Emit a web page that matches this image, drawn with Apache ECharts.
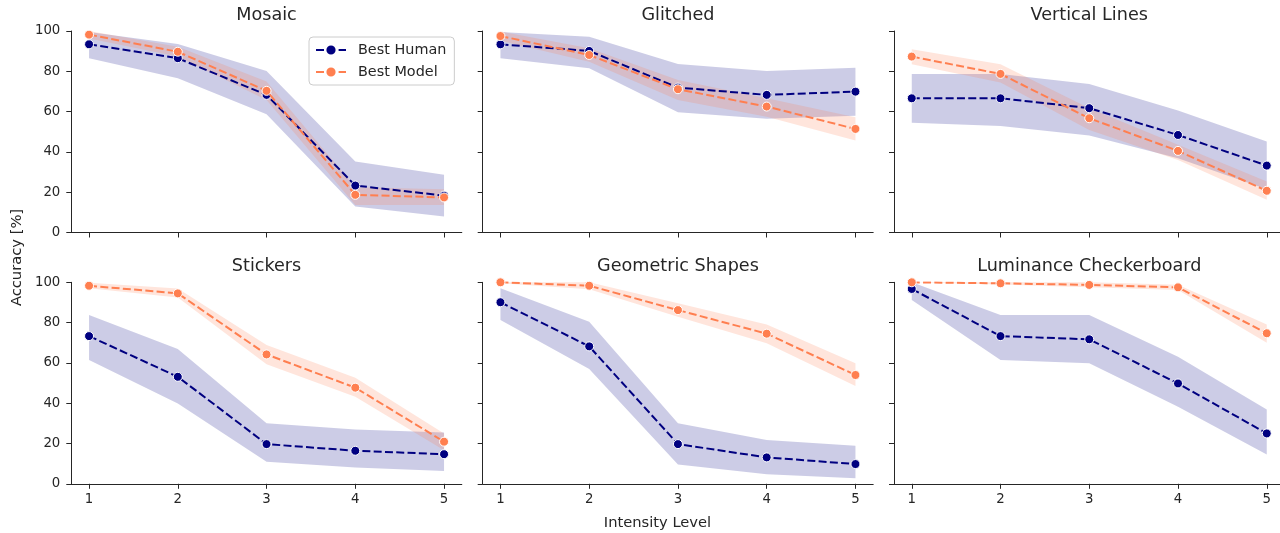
<!DOCTYPE html>
<html>
<head>
<meta charset="utf-8">
<script src="https://cdn.jsdelivr.net/npm/echarts@6/dist/echarts.min.js"></script>
<style>
  html, body { margin: 0; padding: 0; background: #ffffff; }
  #chart { width: 1280px; height: 533px; }
</style>
</head>
<body>
<div id="chart"></div>
<script>
// ---------------- DATA ----------------
const levels = [1, 2, 3, 4, 5];
const levelTicks = [1, 2, 3, 4, 5];
const yTicks = [0, 20, 40, 60, 80, 100];
const panelTitles = ['Mosaic', 'Glitched', 'Vertical Lines', 'Stickers', 'Geometric Shapes', 'Luminance Checkerboard'];
const seriesNames = ['Best Human', 'Best Model'];

const mosaicHuman   = [93.4, 86.5, 68.3, 23.3, 18.3];
const mosaicHumanLo = [86.5, 76.5, 58.7, 12.9, 7.9];
const mosaicHumanHi = [99.5, 93.5, 80.2, 35.2, 28.6];
const mosaicModel   = [98.2, 89.7, 70.3, 18.7, 17.4];
const mosaicModelLo = [96.3, 87.3, 65.8, 13.7, 13.7];
const mosaicModelHi = [100, 92.2, 74.9, 22.5, 21.5];

const glitchedHuman   = [93.4, 90.1, 71.9, 68.3, 69.9];
const glitchedHumanLo = [86.5, 81.5, 59.7, 56.4, 58.0];
const glitchedHumanHi = [99.5, 97.2, 83.6, 80.2, 81.8];
const glitchedModel   = [97.5, 88.1, 71.1, 62.5, 51.4];
const glitchedModelLo = [95.2, 84.8, 65.8, 57.5, 45.6];
const glitchedModelHi = [99.8, 91.4, 75.7, 66.6, 57.2];

const verticalHuman   = [66.6, 66.6, 61.7, 48.4, 33.2];
const verticalHumanLo = [54.5, 52.9, 48.1, 36.9, 21.5];
const verticalHumanHi = [78.7, 78.7, 73.7, 60.5, 45.1];
const verticalModel   = [87.3, 78.7, 56.7, 40.5, 20.7];
const verticalModelLo = [83.5, 74.4, 50.9, 36.0, 16.2];
const verticalModelHi = [90.9, 83.5, 61.7, 43.5, 25.3];

const stickersHuman   = [73.3, 53.1, 19.7, 16.4, 14.7];
const stickersHumanLo = [61.4, 39.9, 10.9, 8.1, 6.3];
const stickersHumanHi = [83.8, 66.9, 30.0, 27.0, 25.5];
const stickersModel   = [98.3, 94.5, 64.2, 47.7, 20.9];
const stickersModelLo = [97.0, 92.4, 59.3, 43.2, 16.7];
const stickersModelHi = [99.8, 96.9, 68.9, 52.6, 25.0];

const geometricHuman   = [90.1, 68.2, 19.7, 13.1, 9.8];
const geometricHumanLo = [81.3, 57.0, 9.6, 4.7, 2.7];
const geometricHumanHi = [97.0, 80.4, 30.0, 21.7, 18.9];
const geometricModel   = [100, 98.3, 86.2, 74.5, 54.0];
const geometricModelLo = [99.5, 96.5, 82.9, 69.7, 48.5];
const geometricModelHi = [100, 100, 89.6, 79.1, 59.8];

const luminanceHuman   = [96.7, 73.3, 71.7, 49.8, 25.0];
const luminanceHumanLo = [91.2, 61.4, 59.8, 38.2, 14.6];
const luminanceHumanHi = [100, 83.8, 83.8, 63.1, 36.9];
const luminanceModel   = [100, 99.5, 98.7, 97.5, 74.7];
const luminanceModelLo = [100, 98.9, 97.5, 96.2, 70.0];
const luminanceModelHi = [100, 100, 100, 98.8, 79.1];

// ---------------- BUILD ----------------
const panels = [
  [mosaicHuman, mosaicHumanLo, mosaicHumanHi, mosaicModel, mosaicModelLo, mosaicModelHi],
  [glitchedHuman, glitchedHumanLo, glitchedHumanHi, glitchedModel, glitchedModelLo, glitchedModelHi],
  [verticalHuman, verticalHumanLo, verticalHumanHi, verticalModel, verticalModelLo, verticalModelHi],
  [stickersHuman, stickersHumanLo, stickersHumanHi, stickersModel, stickersModelLo, stickersModelHi],
  [geometricHuman, geometricHumanLo, geometricHumanHi, geometricModel, geometricModelLo, geometricModelHi],
  [luminanceHuman, luminanceHumanLo, luminanceHumanHi, luminanceModel, luminanceModelLo, luminanceModelHi]
];

const FONT = 'DejaVu Sans';
const TXT = '#262626';
const HUMAN = '#000080';
const MODEL = '#FF7F50';
const HUMAN_BAND = 'rgba(0,0,128,0.2)';
const MODEL_BAND = 'rgba(255,127,80,0.2)';

const colLeft = [71.3, 482.7, 894];
const pxPerUnit = 88.75;
const fullW = 4.4 * pxPerUnit;
// last column is cut by the right edge of the figure
const colW = [fullW, fullW, 1280 - 894];
const rowTop = [31, 282.3];
const gridH = 201.5;

const grids = [], xAxes = [], yAxes = [], series = [], graphics = [];

function bandRenderer(lo, hi, color) {
  return function (params, api) {
    if (params.dataIndex !== 0) return null;
    const top = levels.map((x, i) => api.coord([x, hi[i]]));
    const bot = levels.map((x, i) => api.coord([x, lo[i]])).reverse();
    return {
      type: 'polygon',
      shape: { points: top.concat(bot) },
      style: { fill: color, stroke: null }
    };
  };
}

panels.forEach((p, k) => {
  const r = Math.floor(k / 3), c = k % 3;
  grids.push({ left: colLeft[c], top: rowTop[r], width: colW[c], height: gridH, containLabel: false });
  xAxes.push({
    gridIndex: k, type: 'value', min: 0.8, max: 0.8 + colW[c] / pxPerUnit,
    splitLine: { show: false },
    axisLine: { show: true, onZero: false, lineStyle: { color: TXT, width: 1 } },
    axisTick: { show: true, customValues: levelTicks, length: 5, lineStyle: { color: TXT, width: 1 } },
    axisLabel: { show: r === 1, customValues: levelTicks, margin: 9, fontSize: 13.3, color: TXT, fontFamily: FONT }
  });
  yAxes.push({
    gridIndex: k, type: 'value', min: 0, max: 100, interval: 20,
    splitLine: { show: false },
    axisLine: { show: true, lineStyle: { color: TXT, width: 1 } },
    axisTick: { show: true, length: 5, lineStyle: { color: TXT, width: 1 } },
    axisLabel: { show: c === 0, margin: 11, fontSize: 13.3, color: TXT, fontFamily: FONT }
  });
  const [h, hLo, hHi, m, mLo, mHi] = p;
  series.push({
    type: 'custom', name: 'Human band', xAxisIndex: k, yAxisIndex: k, z: 1, silent: true,
    data: levels.map((x, i) => [x, hLo[i], hHi[i]]),
    encode: { x: 0, y: [1, 2] },
    renderItem: bandRenderer(hLo, hHi, HUMAN_BAND)
  });
  series.push({
    type: 'custom', name: 'Model band', xAxisIndex: k, yAxisIndex: k, z: 1, silent: true,
    data: levels.map((x, i) => [x, mLo[i], mHi[i]]),
    encode: { x: 0, y: [1, 2] },
    renderItem: bandRenderer(mLo, mHi, MODEL_BAND)
  });
  [[seriesNames[0], h, HUMAN, 3], [seriesNames[1], m, MODEL, 4]].forEach(([name, vals, col, z]) => {
    series.push({
      type: 'line', name: name, xAxisIndex: k, yAxisIndex: k, z: z,
      data: levels.map((x, i) => [x, vals[i]]),
      symbol: 'circle', symbolSize: 9, showSymbol: true,
      lineStyle: { color: col, width: 2, type: [8, 3.3] },
      itemStyle: { color: col, borderColor: '#ffffff', borderWidth: 1 },
      emphasis: { disabled: true }
    });
  });
  graphics.push({
    type: 'text', x: colLeft[c] + fullW / 2, y: r === 0 ? 15 : 266.7,
    style: { text: panelTitles[k], fontSize: 17.6, fontFamily: FONT, fill: TXT, align: 'center', verticalAlign: 'middle' }
  });
});

graphics.push({
  type: 'text', x: 657.5, y: 523,
  style: { text: 'Intensity Level', fontSize: 14.7, fontFamily: FONT, fill: TXT, align: 'center', verticalAlign: 'middle' }
});
graphics.push({
  type: 'text', x: 17, y: 257.5, rotation: Math.PI / 2,
  style: { text: 'Accuracy [%]', fontSize: 14.7, fontFamily: FONT, fill: TXT, align: 'center', verticalAlign: 'middle' }
});

const option = {
  animation: false,
  backgroundColor: '#ffffff',
  grid: grids,
  xAxis: xAxes,
  yAxis: yAxes,
  series: series,
  graphic: graphics,
  legend: {
    data: seriesNames,
    orient: 'vertical',
    left: 309, top: 37,
    padding: [6, 8, 6, 6],
    itemWidth: 30, itemHeight: 14, itemGap: 8,
    backgroundColor: 'rgba(255,255,255,0.8)',
    borderColor: '#cccccc', borderWidth: 1, borderRadius: 4,
    textStyle: { fontSize: 14.4, color: TXT, fontFamily: FONT, padding: [0, 0, 0, 7] }
  }
};

const chart = echarts.init(document.getElementById('chart'), null, { renderer: 'canvas' });
chart.setOption(option);
</script>
</body>
</html>
